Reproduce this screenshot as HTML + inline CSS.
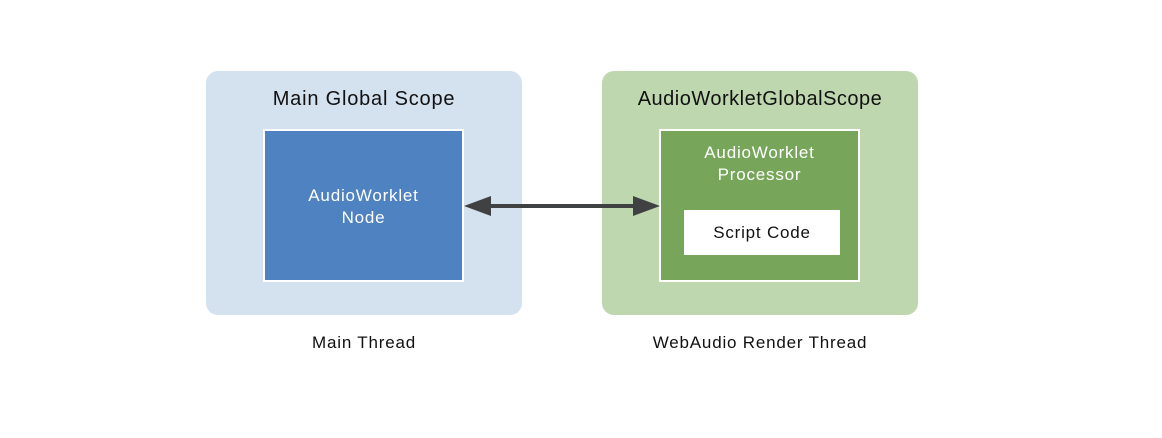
<!DOCTYPE html>
<html><head><style>
body{margin:0;width:1162px;height:438px;background:#fff;font-family:"Liberation Sans",sans-serif;position:relative;overflow:hidden}
.a{position:absolute}
.t{position:absolute;text-align:center;letter-spacing:0.8px}
</style></head><body>
<div class="a" style="left:206px;top:71px;width:316px;height:244px;background:#d4e1ef;border-radius:12px"></div>
<div class="a" style="left:602px;top:71px;width:316px;height:244px;background:#bed7ae;border-radius:12px"></div>
<div class="t" style="left:206px;width:316px;top:88px;font-size:20px;color:#111">Main Global Scope</div>
<div class="t" style="left:602px;width:316px;top:88px;font-size:20px;color:#111;letter-spacing:0.5px">AudioWorkletGlobalScope</div>
<div class="a" style="left:263px;top:129px;width:197px;height:149px;background:#4f82c0;border:2px solid #fff"></div>
<div class="t" style="left:263px;width:201px;top:185px;font-size:17px;line-height:22px;color:#fff">AudioWorklet<br>Node</div>
<div class="a" style="left:659px;top:129px;width:197px;height:149px;background:#77a65b;border:2px solid #fff"></div>
<div class="t" style="left:659px;width:201px;top:142px;font-size:17px;line-height:22px;color:#fff">AudioWorklet<br>Processor</div>
<div class="a" style="left:684px;top:210px;width:156px;height:45px;background:#fff"></div>
<div class="t" style="left:684px;width:156px;top:223px;font-size:17px;color:#111">Script Code</div>
<svg class="a" style="left:0;top:0" width="1162" height="438">
<line x1="488" y1="206" x2="636" y2="206" stroke="#404142" stroke-width="4"/>
<polygon points="464,206 491,196 491,216" fill="#404142"/>
<polygon points="660,206 633,196 633,216" fill="#404142"/>
</svg>
<div class="t" style="left:206px;width:316px;top:333px;font-size:17px;color:#111">Main Thread</div>
<div class="t" style="left:602px;width:316px;top:333px;font-size:17px;color:#111">WebAudio Render Thread</div>
</body></html>
